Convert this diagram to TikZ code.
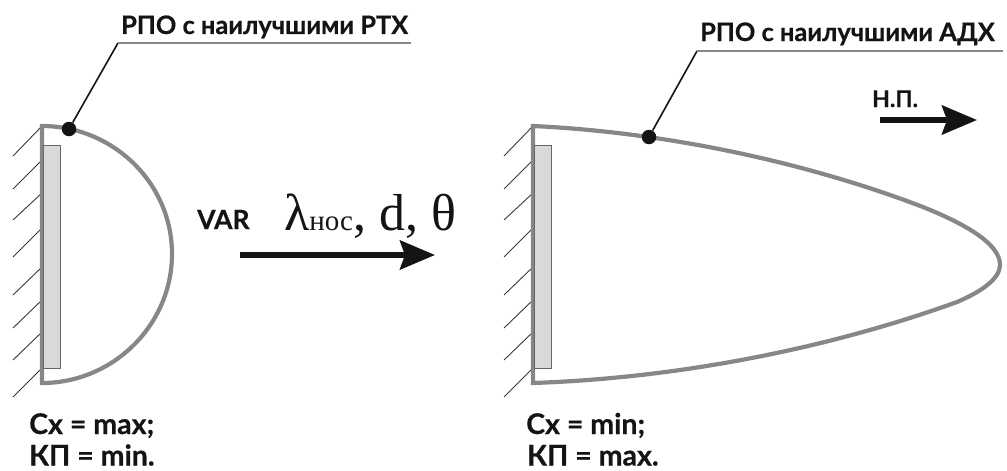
\documentclass[tikz,border=0pt]{standalone}
\usepackage{fontspec}
\setmainfont{Lato}[BoldFont={Lato Bold},BoldFeatures={FakeBold=0.5}]
\newfontfamily\serifgr{Liberation Serif}
\usetikzlibrary{arrows.meta}
\definecolor{shell}{gray}{0.53}
\definecolor{ink}{gray}{0.08}
\definecolor{plate}{gray}{0.85}
\definecolor{plateedge}{gray}{0.4}
\tikzset{x=1pt,y=-1pt,
  shellline/.style={draw=shell,line width=4.2pt,line join=miter},
  hatchline/.style={draw=ink!85!white,line width=0.9pt},
  plate box/.style={draw=plateedge,fill=plate,line width=0.9pt,outer sep=0pt},
  lead/.style={draw=ink,line width=1.6pt},
  shelf/.style={draw=shell,line width=1.3pt},
  pointdot/.style={circle,fill=ink,inner sep=0pt,minimum size=14.5pt},
  lbl/.style={font=\bfseries\fontsize{25.4}{28}\selectfont,text=ink,inner sep=0pt},
  lblbig/.style={font=\bfseries\fontsize{28.5}{31}\selectfont,text=ink,inner sep=0pt},
  bigarrow/.style={draw=ink,line width=5.6pt,-{Stealth[length=35pt,width=29pt,inset=5pt]}}
}
\begin{document}
\begin{tikzpicture}
\useasboundingbox (0,0) rectangle (1007,471);
% left wall hatching
\foreach \y/\z in {126/156,160/189,193/220,228/257,267/295,300/328,332/360,368/397}{
  \draw[hatchline] (42,\y) -- (13,\z);
  \draw[hatchline] (533,\y) -- (504,\z);
}
% left shell
\draw[shellline] (42,383) -- (42,126) .. controls (113,126) and (172,183) .. (172,254)
   .. controls (172,325) and (113,383) .. (42,383) -- cycle;
\node[plate box,minimum width=17pt,minimum height=223pt,inner sep=0pt,anchor=north west] (plateL) at (43,145.5) {};
% right shell
\draw[shellline] (533,383) -- (533,126) .. controls (660,132) and (800,160) .. (923,207)
   .. controls (970,226) and (1000,245) .. (1000,265)
   .. controls (1000,278) and (983,291) .. (957,302)
   .. controls (830,348) and (680,378) .. (533,383) -- cycle;
\node[plate box,minimum width=17pt,minimum height=223pt,inner sep=0pt,anchor=north west] (plateR) at (534,145.5) {};
% labels
\node[lbl,anchor=base west] (lblL) at (121,34) {РПО с наилучшими РТХ};
\node[lbl,anchor=base west] (lblR) at (700,41) {РПО с наилучшими АДХ};
\node[lbl,anchor=base west,font=\bfseries\fontsize{26.5}{29}\selectfont] (var) at (197,229) {VAR};
\node[lbl,anchor=base west,font=\bfseries\fontsize{23}{26}\selectfont] (np) at (872,107) {Н.П.};
\node[lblbig,anchor=base west] (a1) at (29,434) {Cx = max;};
\node[lblbig,anchor=base west] (a2) at (29,465.5) {КП = min.};
\node[lblbig,anchor=base west] (b1) at (526,434) {Cx = min;};
\node[lblbig,anchor=base west] (b2) at (527,465.5) {КП = max.};
\node[anchor=base west,inner sep=0pt,text=ink] (vars) at (284,230)
  {\serifgr\fontsize{52}{55}\selectfont λ\fontsize{29}{32}\selectfont нос\fontsize{52}{55}\selectfont, d, θ};
% leaders
\node[pointdot] (dotL) at (69,129) {};
\node[pointdot] (dotR) at (649,137) {};
\coordinate (kneeL) at (118,43);
\coordinate (endL) at (411,43);
\coordinate (kneeR) at (697,51);
\coordinate (endR) at (1003,51);
\draw[lead] (dotL) -- (kneeL);
\draw[shelf] (kneeL) -- (endL);
\draw[lead] (dotR) -- (kneeR);
\draw[shelf] (kneeR) -- (endR);
% arrows
\coordinate (a1s) at (240,255);
\coordinate (a1e) at (435,255);
\coordinate (a2s) at (880,120);
\coordinate (a2e) at (977,120);
\draw[bigarrow] (a1s) -- (a1e);
\draw[bigarrow] (a2s) -- (a2e);
\end{tikzpicture}
\end{document}
